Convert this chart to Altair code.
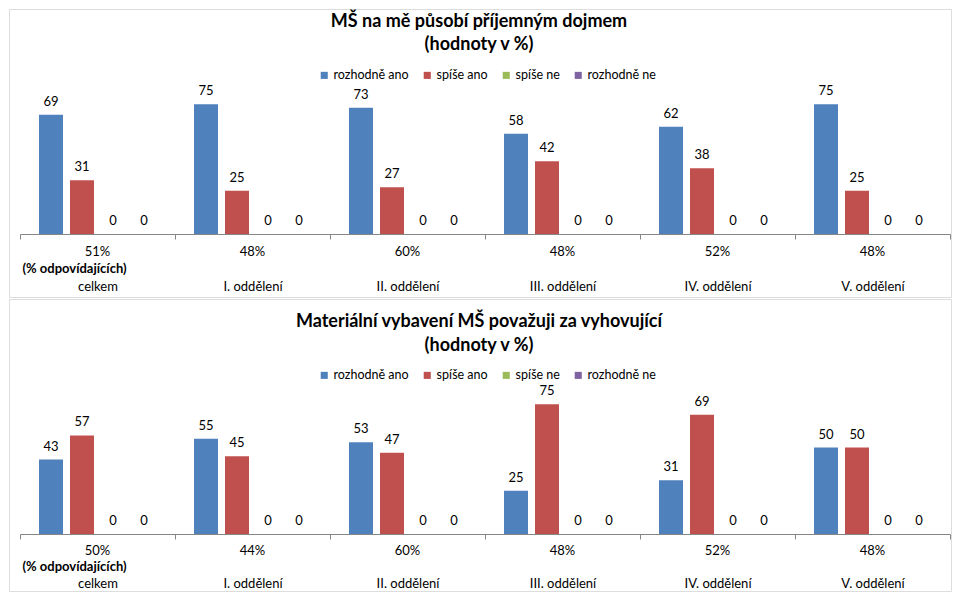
import altair as alt
import pandas as pd

groups = ["celkem", "I. oddělení", "II. oddělení", "III. oddělení", "IV. oddělení", "V. oddělení"]
series = ["rozhodně ano", "spíše ano", "spíše ne", "rozhodně ne"]
colors = ["#4F81BD", "#C0504D", "#9BBB59", "#8064A2"]
response_note = "(% odpovídajících)"

title_1 = ["MŠ na mě působí příjemným dojmem", "(hodnoty v %)"]
rozhodne_ano_1 = [69, 75, 73, 58, 62, 75]
spise_ano_1 = [31, 25, 27, 42, 38, 25]
spise_ne_1 = [0, 0, 0, 0, 0, 0]
rozhodne_ne_1 = [0, 0, 0, 0, 0, 0]
response_1 = ["51%", "48%", "60%", "48%", "52%", "48%"]

title_2 = ["Materiální vybavení MŠ považuji za vyhovující", "(hodnoty v %)"]
rozhodne_ano_2 = [43, 55, 53, 25, 31, 50]
spise_ano_2 = [57, 45, 47, 75, 69, 50]
spise_ne_2 = [0, 0, 0, 0, 0, 0]
rozhodne_ne_2 = [0, 0, 0, 0, 0, 0]
response_2 = ["50%", "44%", "60%", "48%", "52%", "48%"]

FONT = "Lato"
W = 942
PX_PER_UNIT = 1.73


def panel(title, cols, resp, lay):
    base_y = lay["base"]
    H = lay["height"]
    rows = []
    for s, vals in zip(series, cols):
        for g, v in zip(groups, vals):
            rows.append({"group": g, "series": s, "value": v})
    df = pd.DataFrame(rows)
    resp_df = pd.DataFrame({"group": groups, "resp": resp})
    note_df = pd.DataFrame({"group": [groups[0]], "note": [response_note]})
    title_df = pd.DataFrame({"line": title, "pos": lay["title"]})

    xenc = alt.X(
        "group:N", sort=groups, title=None,
        scale=alt.Scale(range=[11, 941], paddingInner=0, paddingOuter=0),
        axis=alt.Axis(
            orient="bottom", offset=-(H - base_y), tickBand="extent", tickSize=5,
            domainColor="#868686", tickColor="#868686", labelAngle=0,
            labelAlign="center", labelFlush=False, labelOverlap=False,
            labelFont=FONT, labelFontSize=13, labelColor="#000000",
            labelPadding=lay["labpad"], title=None, grid=False,
        ),
    )
    xoff = alt.XOffset("series:N", sort=series,
                       scale=alt.Scale(paddingInner=0.226, paddingOuter=0.613))
    yenc = alt.Y("value:Q", axis=None,
                 scale=alt.Scale(domain=[0, 100], range=[base_y, base_y - 100 * PX_PER_UNIT]))

    bars = alt.Chart(df).mark_bar().encode(
        x=xenc, xOffset=xoff, y=yenc,
        color=alt.Color(
            "series:N", sort=series,
            scale=alt.Scale(domain=series, range=colors),
            legend=alt.Legend(
                orient="none", legendX=309, legendY=lay["legend"], direction="horizontal",
                title=None, symbolType="square", symbolSize=50, symbolStrokeWidth=0,
                labelFont=FONT, labelFontSize=12.5, labelColor="#000000",
                columnPadding=12, labelOffset=3,
            ),
        ),
    )
    labels = alt.Chart(df).mark_text(
        dy=-13, baseline="middle", font=FONT, fontSize=13, color="#000000"
    ).encode(x=alt.X("group:N", sort=groups), xOffset=xoff, y=yenc, text="value:Q")

    resp_text = alt.Chart(resp_df).mark_text(
        baseline="middle", font=FONT, fontSize=13, color="#000000"
    ).encode(x=alt.X("group:N", sort=groups), y=alt.value(lay["pct"]), text="resp:N")

    note_text = alt.Chart(note_df).mark_text(
        baseline="middle", font=FONT, fontSize=13, fontWeight="bold", color="#000000", dx=-23
    ).encode(x=alt.X("group:N", sort=groups), y=alt.value(lay["note"]), text="note:N")

    title_text = alt.Chart(title_df).mark_text(
        baseline="middle", align="center", font=FONT, fontSize=18, fontWeight="bold",
        color="#000000"
    ).encode(
        x=alt.value(470),
        y=alt.Y("pos:Q", scale=None, axis=None),
        text="line:N",
    )

    return alt.layer(bars, labels, resp_text, note_text, title_text).resolve_scale(
        y="independent"
    ).properties(width=W, height=H)


layout_1 = {"height": 288, "title": [13, 36], "legend": 60, "base": 225,
            "pct": 243, "note": 260, "labpad": 41}
layout_2 = {"height": 292, "title": [23, 47], "legend": 70, "base": 235,
            "pct": 252, "note": 268, "labpad": 38}

chart = alt.vconcat(
    panel(title_1, [rozhodne_ano_1, spise_ano_1, spise_ne_1, rozhodne_ne_1], response_1, layout_1),
    panel(title_2, [rozhodne_ano_2, spise_ano_2, spise_ne_2, rozhodne_ne_2], response_2, layout_2),
    spacing=0,
    padding=0,
).resolve_scale(color="independent").resolve_legend(color="independent").configure_view(
    stroke="#bfbfbf", strokeWidth=2
).configure(background="white")

chart.save("out.html", embed_options={"renderer": "svg", "actions": False})
